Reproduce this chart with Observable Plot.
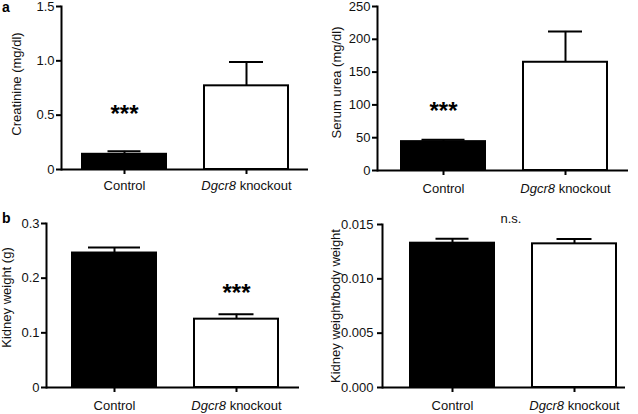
<!DOCTYPE html>
<html><head><meta charset="utf-8">
<script src="https://cdn.jsdelivr.net/npm/d3@7"></script>
<script src="https://cdn.jsdelivr.net/npm/@observablehq/plot@0.6"></script>
<style>
body{margin:0;background:#fff;}
#wrap{position:relative;width:638px;height:414px;overflow:hidden;font-family:"Liberation Sans",Arial,sans-serif;}
#wrap svg{position:absolute;}
.plabel{position:absolute;font:bold 14px "Liberation Sans",Arial,sans-serif;line-height:14px;color:#000;}
</style></head><body>
<div id="wrap"><div class="plabel" style="left:2px;top:0px">a</div><div class="plabel" style="left:2px;top:211px">b</div></div>
<script>
// ---- data ----
const groups = ["Control", "Dgcr8 knockout"];
const creatinineMean = [0.14, 0.77];
const creatinineSem = [0.027, 0.22];
const ureaMean = [44, 165];
const ureaSem = [3, 47];
const kidneyMean = [0.246, 0.125];
const kidneySem = [0.010, 0.009];
const ratioMean = [0.01328, 0.01322];
const ratioSem = [0.0004, 0.00045];
const creatinineTicks = [0, 0.5, 1.0, 1.5];
const ureaTicks = [0, 50, 100, 150, 200, 250];
const kidneyTicks = [0, 0.1, 0.2, 0.3];
const ratioTicks = [0, 0.005, 0.010, 0.015];
const yLabels = ["Creatinine (mg/dl)", "Serum urea (mg/dl)", "Kidney weight (g)", "Kidney weight/body weight"];
const sigLabels = ["***", "***", "***", "n.s."];
const sigGroups = ["Control", "Control", "Dgcr8 knockout", null];
const sigValues = [0.56, 99, 0.184, 0.0155];

// ---- styles / layout ----
const groupFills = ["#000", "#fff"];
const font = '"Liberation Sans", Arial, sans-serif';

const panels = [
  {mean: creatinineMean, sem: creatinineSem, ticks: creatinineTicks, fmt: d => d === 0 ? "0" : d.toFixed(1),
   left: 0, top: 0, mL: 61, mR: 11, mT: 6, mB: 38, xr: [81.3, 288], ldx: -45, ldy: -4, yPad: 2, xPad: 6, capInset: [25.5, 25]},
  {mean: ureaMean, sem: ureaSem, ticks: ureaTicks, fmt: d => String(d),
   left: 319, top: 0, mL: 58, mR: 10, mT: 6, mB: 37, xr: [82, 288.5], ldx: -41, ldy: -6, yPad: 2, xPad: 8.5, capInset: [20.5, 25]},
  {mean: kidneyMean, sem: kidneySem, ticks: kidneyTicks, fmt: d => d === 0 ? "0" : d.toFixed(1),
   left: 0, top: 207, mL: 46, mR: 20, mT: 16, mB: 27, xr: [71.7, 278.3], ldx: -40, ldy: -8, yPad: 2, xPad: 8, capInset: [16, 24.5]},
  {mean: ratioMean, sem: ratioSem, ticks: ratioTicks, fmt: d => d.toFixed(3),
   left: 319, top: 207, mL: 63, mR: 13, mT: 17, mB: 27, xr: [90.7, 296.7], ldx: -47, ldy: 0, yPad: 4, xPad: 8, capInset: [25.5, 24.5]}
];

const wrap = document.getElementById("wrap");
panels.forEach((cfg, k) => {
  const rows = groups.map((g, i) => ({group: g, mean: cfg.mean[i], sem: cfg.sem[i], top: cfg.mean[i] + cfg.sem[i]}));
  const ann = [{label: sigLabels[k], group: sigGroups[k], value: sigValues[k]}];
  const annMark = sigGroups[k] != null
    ? Plot.text(ann, {x: "group", y: "value", text: "label", fontSize: 24, fontWeight: "bold", dy: 6, fill: "#000"})
    : Plot.text(ann, {y: "value", text: "label", fontSize: 13, dx: 7, fill: "#111"});
  const caps = groups.map((g, i) => Plot.tickY(rows.filter(r => r.group === g), {
    x: "group", y: "top", stroke: "#000", strokeWidth: 2, insetLeft: cfg.capInset[i], insetRight: cfg.capInset[i]}));
  const svg = Plot.plot({
    width: 319, height: 207,
    marginLeft: cfg.mL, marginRight: cfg.mR, marginTop: cfg.mT, marginBottom: cfg.mB,
    x: {type: "band", domain: groups, range: cfg.xr, paddingInner: 0.315, paddingOuter: 0, align: 0.5},
    y: {domain: [cfg.ticks[0], cfg.ticks[cfg.ticks.length - 1]]},
    color: {domain: groups, range: groupFills},
    style: {fontFamily: font, fontSize: "13px", color: "#111", background: "transparent", overflow: "visible"},
    marks: [
      Plot.barY(rows, {x: "group", y: "mean", fill: "group", stroke: "#000", strokeWidth: 2}),
      Plot.ruleX(rows, {x: "group", y1: "mean", y2: "top", stroke: "#000", strokeWidth: 2}),
      ...caps,
      Plot.ruleY([0], {stroke: "#000", strokeWidth: 2}),
      Plot.frame({anchor: "left", stroke: "#000", strokeWidth: 2}),
      Plot.axisY({ticks: cfg.ticks, tickFormat: cfg.fmt, tickSize: 5, tickPadding: cfg.yPad, stroke: "#000", strokeWidth: 2, fontSize: 13, label: null}),
      Plot.axisX({tickSize: 5, tickPadding: cfg.xPad, stroke: "#000", strokeWidth: 2, fontSize: 13, label: null}),
      Plot.text([yLabels[k]], {frameAnchor: "left", textAnchor: "middle", rotate: -90, dx: cfg.ldx, dy: cfg.ldy, fontSize: 13, fill: "#111"}),
      annMark
    ]
  });
  svg.style.left = cfg.left + "px";
  svg.style.top = cfg.top + "px";
  // italicize the gene name in the tick label
  svg.querySelectorAll("text").forEach(t => {
    if (t.textContent === "Dgcr8 knockout") {
      t.textContent = "";
      const ns = "http://www.w3.org/2000/svg";
      const a = document.createElementNS(ns, "tspan");
      a.setAttribute("font-style", "italic");
      a.textContent = "Dgcr8";
      const b = document.createElementNS(ns, "tspan");
      b.textContent = "\u00a0knockout";
      t.appendChild(a); t.appendChild(b);
    }
  });
  wrap.appendChild(svg);
});
</script>
</body></html>
